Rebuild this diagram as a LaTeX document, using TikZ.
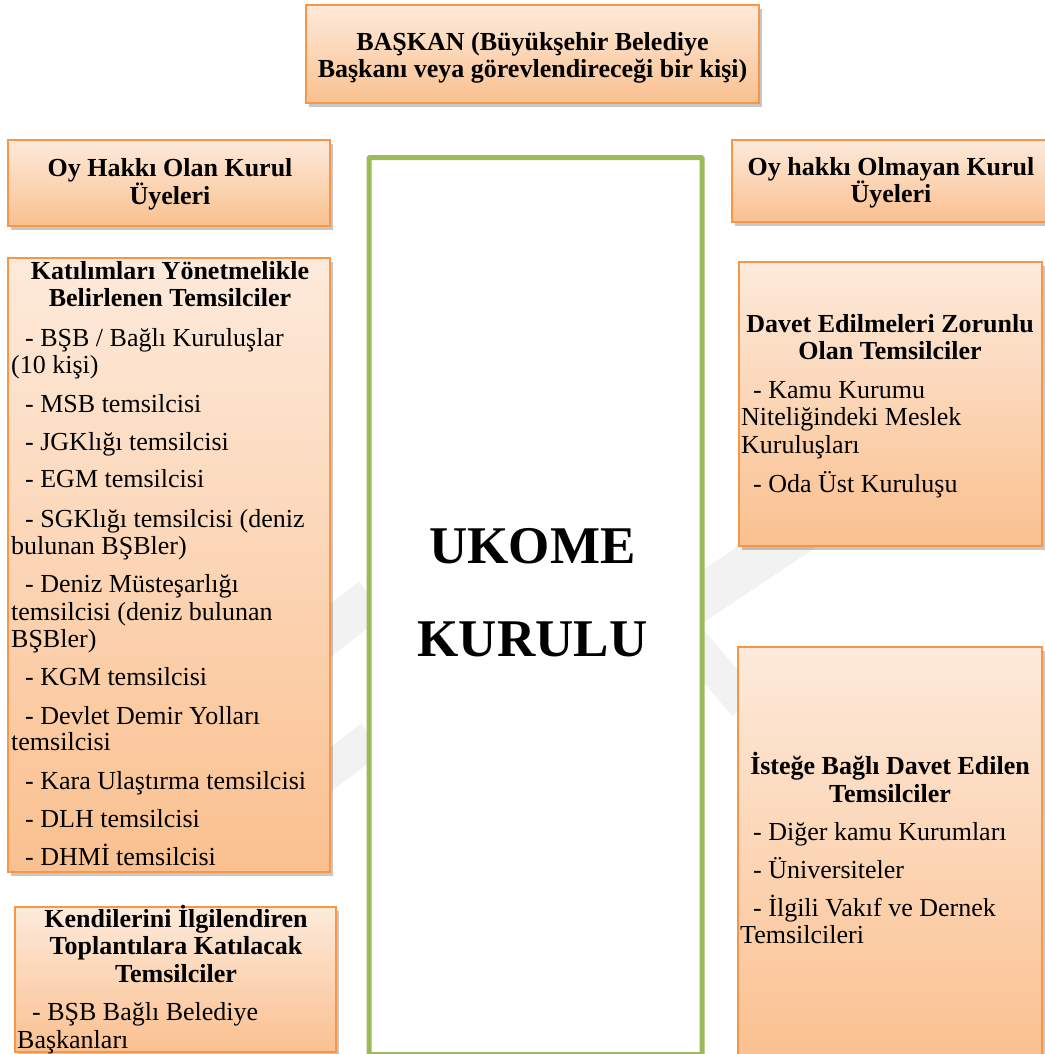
\documentclass[tikz,border=0pt]{standalone}
\usepackage{fontspec}
\setmainfont{Liberation Serif}
\usetikzlibrary{shadows}

\definecolor{boxorange}{HTML}{F79646}
\definecolor{peachtop}{HTML}{FDEADB}
\definecolor{peachbot}{HTML}{FAC08F}
\definecolor{kurulgreen}{HTML}{9BBB59}

\tikzset{
  box/.style={draw=boxorange, line width=1.8pt, top color=peachtop, bottom color=peachbot,
    inner sep=0pt, outer sep=0pt, anchor=north west,
    drop shadow={shadow xshift=3pt, shadow yshift=-4pt, fill=black, opacity=0.22}},
  head/.style={font=\fontsize{26}{30}\selectfont\bfseries, anchor=base, inner sep=0pt},
  item/.style={font=\fontsize{26}{30}\selectfont, anchor=base west, inner sep=0pt},
  big/.style={font=\fontsize{53}{60}\selectfont\bfseries, anchor=base, inner sep=0pt},
  mark band/.style={draw=black!5, line cap=butt}
}

\begin{document}
\begin{tikzpicture}[x=1pt, y=-1pt]
\useasboundingbox (0,0) rectangle (1044,1054);

% faint background emblem
\begin{scope}
  \draw[mark band, line width=42pt] (280,670) -- (372,598);
  \draw[mark band, line width=36pt] (290,800) -- (372,738);
  \draw[mark band, line width=44pt] (690,605) -- (840,505);
  \draw[mark band, line width=34pt] (690,640) -- (745,705);
\end{scope}

% chairman
\node[box, minimum width=453pt, minimum height=98pt] (baskanbox) at (306,5) {};
\node[head] (baskan1) at (532.5,51) {BAŞKAN (Büyükşehir Belediye};
\node[head] (baskan2) at (532.5,78) {Başkanı veya görevlendireceği bir kişi)};

% central board
\node[draw=kurulgreen, line width=5pt, fill=white, rounded corners=1pt, inner sep=0pt,
      minimum width=333pt, minimum height=897pt, anchor=north west] (ukome) at (366.5,155) {};
\node[big] (ukome1) at (532.5,563) {UKOME};
\node[big] (ukome2) at (532.5,656) {KURULU};

% voting members
\node[box, minimum width=322pt, minimum height=86pt] (oyvarbox) at (8,140) {};
\node[head] (oyvar1) at (170,176) {Oy Hakkı Olan Kurul};
\node[head] (oyvar2) at (170,204) {Üyeleri};

\node[box, minimum width=322pt, minimum height=614pt] (katbox) at (8,258) {};
\node[head] (kath1) at (170,279) {Katılımları Yönetmelikle};
\node[head] (kath2) at (170,306) {Belirlenen Temsilciler};
\node[item] (kat1)  at (25,346) {- BŞB / Bağlı Kuruluşlar};
\node[item] (kat1b) at (11,373) {(10 kişi)};
\node[item] (kat2)  at (25,412) {- MSB temsilcisi};
\node[item] (kat3)  at (25,450) {- JGKlığı temsilcisi};
\node[item] (kat4)  at (25,487) {- EGM temsilcisi};
\node[item] (kat5)  at (25,527) {- SGKlığı temsilcisi (deniz};
\node[item] (kat5b) at (11,554) {bulunan BŞBler)};
\node[item] (kat6)  at (25,592) {- Deniz Müsteşarlığı};
\node[item] (kat6b) at (11,620) {temsilcisi (deniz bulunan};
\node[item] (kat6c) at (11,647) {BŞBler)};
\node[item] (kat7)  at (25,685) {- KGM temsilcisi};
\node[item] (kat8)  at (25,724) {- Devlet Demir Yolları};
\node[item] (kat8b) at (11,750) {temsilcisi};
\node[item] (kat9)  at (25,789) {- Kara Ulaştırma temsilcisi};
\node[item] (kat10) at (25,827) {- DLH temsilcisi};
\node[item] (kat11) at (25,865) {- DHMİ temsilcisi};

\node[box, minimum width=321pt, minimum height=145pt] (kenbox) at (15,907) {};
\node[head] (kenh1) at (176,927) {Kendilerini İlgilendiren};
\node[head] (kenh2) at (176,954) {Toplantılara Katılacak};
\node[head] (kenh3) at (176,982) {Temsilciler};
\node[item] (ken1)  at (32,1020) {- BŞB Bağlı Belediye};
\node[item] (ken1b) at (17,1048) {Başkanları};

% non-voting members
\node[box, minimum width=318pt, minimum height=82pt] (oyyokbox) at (732,140) {};
\node[head] (oyyok1) at (891,175) {Oy hakkı Olmayan Kurul};
\node[head] (oyyok2) at (891,202) {Üyeleri};

\node[box, minimum width=303pt, minimum height=284pt] (davbox) at (739,262) {};
\node[head] (davh1) at (890,332) {Davet Edilmeleri Zorunlu};
\node[head] (davh2) at (890,359) {Olan Temsilciler};
\node[item] (dav1)  at (753,398) {- Kamu Kurumu};
\node[item] (dav1b) at (741,425) {Niteliğindeki Meslek};
\node[item] (dav1c) at (741,453) {Kuruluşları};
\node[item] (dav2)  at (753,492) {- Oda Üst Kuruluşu};

\node[box, minimum width=304pt, minimum height=415pt] (istbox) at (738,647) {};
\node[head] (isth1) at (890,774) {İsteğe Bağlı Davet Edilen};
\node[head] (isth2) at (890,802) {Temsilciler};
\node[item] (ist1)  at (753,840) {- Diğer kamu Kurumları};
\node[item] (ist2)  at (753,878) {- Üniversiteler};
\node[item] (ist3)  at (753,916) {- İlgili Vakıf ve Dernek};
\node[item] (ist3b) at (740,943) {Temsilcileri};
\end{tikzpicture}
\end{document}
